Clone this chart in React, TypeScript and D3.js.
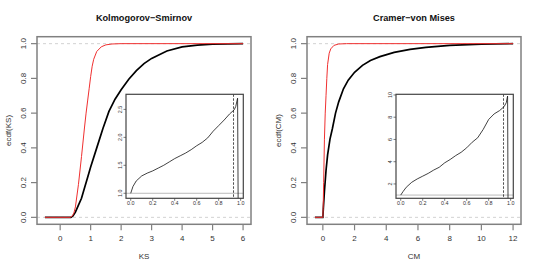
import React from "react";
import * as d3 from "d3";

// main panels: [x, F(x)]
const ksRedX = [-0.5, 0.33, 0.4, 0.45, 0.5, 0.6, 0.7, 0.8, 0.85, 0.9, 0.95, 1.0, 1.05, 1.1, 1.2, 1.35, 1.5, 1.7, 2.0, 6.0];
const ksRedY = [0, 0, 0.008, 0.025, 0.06, 0.19, 0.35, 0.52, 0.6, 0.67, 0.74, 0.81, 0.87, 0.91, 0.955, 0.982, 0.993, 0.998, 1, 1];
const ksBlackX = [-0.5, 0.35, 0.42, 0.5, 0.6, 0.7, 0.8, 0.9, 1.0, 1.2, 1.4, 1.6, 1.8, 2.0, 2.25, 2.5, 2.75, 3.0, 3.5, 4.0, 4.5, 5.0, 6.0];
const ksBlackY = [0, 0, 0.008, 0.03, 0.07, 0.11, 0.17, 0.23, 0.29, 0.4, 0.51, 0.61, 0.68, 0.735, 0.795, 0.845, 0.885, 0.915, 0.958, 0.981, 0.992, 0.997, 1];

const cmRedX = [-0.5, 0, 0.02, 0.05, 0.1, 0.15, 0.2, 0.25, 0.3, 0.4, 0.5, 0.7, 1.0, 1.5, 12];
const cmRedY = [0, 0, 0.05, 0.2, 0.45, 0.6, 0.7, 0.8, 0.88, 0.945, 0.97, 0.99, 0.998, 1, 1];
const cmBlackX = [-0.5, 0, 0.03, 0.1, 0.2, 0.3, 0.45, 0.6, 0.8, 1.0, 1.3, 1.6, 2.0, 2.5, 3.0, 3.6, 4.5, 5.5, 6.5, 8, 10, 12];
const cmBlackY = [0, 0, 0.05, 0.15, 0.27, 0.36, 0.45, 0.51, 0.6, 0.665, 0.74, 0.79, 0.835, 0.875, 0.903, 0.925, 0.95, 0.967, 0.978, 0.99, 0.997, 1];

// insets
const ksInsetX = [0, 0.02, 0.05, 0.1, 0.15, 0.2, 0.25, 0.3, 0.35, 0.4, 0.45, 0.5, 0.55, 0.6, 0.65, 0.7, 0.75, 0.8, 0.85, 0.9, 0.94, 0.955, 0.972, 0.978];
const ksInsetY = [1.0, 1.12, 1.22, 1.31, 1.36, 1.4, 1.45, 1.5, 1.56, 1.62, 1.67, 1.72, 1.78, 1.85, 1.91, 1.99, 2.11, 2.21, 2.31, 2.42, 2.49, 2.55, 2.7, 0.5];
const cmInsetX = [0, 0.02, 0.05, 0.1, 0.15, 0.2, 0.25, 0.3, 0.35, 0.4, 0.45, 0.5, 0.55, 0.6, 0.65, 0.7, 0.75, 0.8, 0.85, 0.9, 0.94, 0.96, 0.972, 0.976];
const cmInsetY = [1.0, 1.3, 1.7, 2.15, 2.45, 2.7, 2.95, 3.25, 3.5, 3.9, 4.2, 4.55, 4.85, 5.25, 5.75, 6.15, 6.9, 7.8, 8.3, 8.6, 8.95, 9.3, 9.9, 0.5];

const ksTicks = [0, 1, 2, 3, 4, 5, 6];
const cmTicks = [0, 2, 4, 6, 8, 10, 12];
const fTicks = [0, 0.2, 0.4, 0.6, 0.8, 1.0];
const insetXTicks = [0, 0.2, 0.4, 0.6, 0.8, 1.0];
const ksInsetYTicks = [1.0, 1.5, 2.0, 2.5];
const cmInsetYTicks = [2, 4, 6, 8, 10];
const dashedAt = 0.935;

const font = "'Liberation Sans', Arial, Helvetica, sans-serif";
const zip = (xs: number[], ys: number[]) => xs.map((x, i) => [x, ys[i]] as [number, number]);

function Inset({ id, left, xs, ys, yDomain, yTicks, yFmt }: any) {
  const L = left, R = left + 117.3, T = 94.3, B = 198.3;
  const x = d3.scaleLinear().domain([-0.043, 1.024]).range([L, R]);
  const y = d3.scaleLinear().domain(yDomain).range([B, T]);
  const line = d3.line<[number, number]>().x(d => x(d[0])).y(d => y(d[1]));
  return (
    <g>
      <clipPath id={id}><rect x={L} y={T} width={R - L} height={B - T} /></clipPath>
      <rect x={L} y={T} width={R - L} height={B - T} fill="white" />
      <line x1={L} x2={R} y1={y(1)} y2={y(1)} stroke="#bbb" strokeWidth={1} />
      <line x1={x(dashedAt)} x2={x(dashedAt)} y1={T} y2={B} stroke="#222" strokeWidth={0.8} strokeDasharray="2.5,1.5" />
      <path d={line(zip(xs, ys)) || ""} fill="none" stroke="#111" strokeWidth={0.8} clipPath={`url(#${id})`} />
      <rect x={L} y={T} width={R - L} height={B - T} fill="none" stroke="#444" strokeWidth={1.2} />
      {insetXTicks.map(t => (
        <g key={t}>
          <line x1={x(t)} x2={x(t)} y1={B} y2={B + 2.5} stroke="#444" strokeWidth={0.7} />
          <text x={x(t)} y={B + 6.8} fontSize={5.4} textAnchor="middle" fill="#333" fontFamily={font}>{t.toFixed(1)}</text>
        </g>
      ))}
      {yTicks.map((t: number) => (
        <g key={t}>
          <line x1={L} x2={L - 2.5} y1={y(t)} y2={y(t)} stroke="#444" strokeWidth={0.7} />
          <text transform={`translate(${L - 4.5},${y(t)}) rotate(-90)`} fontSize={5.4} textAnchor="middle" fill="#333" fontFamily={font}>{yFmt(t)}</text>
        </g>
      ))}
    </g>
  );
}

function Panel({ left, title, xlab, ylab, xDomain, xTicks, red, black, inset }: any) {
  const L = left, R = left + 214, T = 36.7, B = 224.3;
  const x = d3.scaleLinear().domain(xDomain).range([L, R]);
  const y = d3.scaleLinear().domain([-0.04, 1.04]).range([B, T]);
  const line = d3.line<[number, number]>().x(d => x(d[0])).y(d => y(d[1]));
  const cx = (L + R) / 2;
  return (
    <g>
      <text x={cx} y={21} fontSize={9.2} fontWeight="bold" textAnchor="middle" fontFamily={font} fill="#111">{title}</text>
      {[0, 1].map(h => (
        <line key={h} x1={L} x2={R} y1={y(h)} y2={y(h)} stroke="#c8c8c8" strokeWidth={0.8} strokeDasharray="3,3" />
      ))}
      <path d={line(black) || ""} fill="none" stroke="#000" strokeWidth={1.7} />
      <path d={line(red) || ""} fill="none" stroke="#f03030" strokeWidth={1} />
      {inset}
      <rect x={L} y={T} width={R - L} height={B - T} fill="none" stroke="#808080" strokeWidth={1.5} />
      {xTicks.map((t: number) => (
        <g key={t}>
          <line x1={x(t)} x2={x(t)} y1={B} y2={B + 6} stroke="#808080" strokeWidth={1.2} />
          <text x={x(t)} y={241} fontSize={8} textAnchor="middle" fill="#333" fontFamily={font}>{t}</text>
        </g>
      ))}
      {fTicks.map(t => (
        <g key={t}>
          <line x1={L} x2={L - 6} y1={y(t)} y2={y(t)} stroke="#808080" strokeWidth={1.2} />
          <text transform={`translate(${L - 11},${y(t)}) rotate(-90)`} fontSize={8} textAnchor="middle" fill="#333" fontFamily={font}>{t.toFixed(1)}</text>
        </g>
      ))}
      <text x={cx} y={259} fontSize={8} textAnchor="middle" fill="#333" fontFamily={font}>{xlab}</text>
      <text transform={`translate(${L - 26.5},${(T + B) / 2}) rotate(-90)`} fontSize={8} textAnchor="middle" fill="#333" fontFamily={font}>{ylab}</text>
    </g>
  );
}

export default function App() {
  return (
    <svg width={540} height={270} style={{ position: "fixed", left: 0, top: 0, background: "white" }}>
      <rect width={540} height={270} fill="white" />
      <Panel left={37} title="Kolmogorov−Smirnov" xlab="KS" ylab="ecdf(KS)" xDomain={[-0.76, 6.26]} xTicks={ksTicks}
        red={zip(ksRedX, ksRedY)} black={zip(ksBlackX, ksBlackY)}
        inset={<Inset id="clipKS" left={126} xs={ksInsetX} ys={ksInsetY} yDomain={[0.91, 2.77]} yTicks={ksInsetYTicks} yFmt={(t: number) => t.toFixed(1)} />} />
      <Panel left={307} title="Cramer−von Mises" xlab="CM" ylab="ecdf(CM)" xDomain={[-1.0, 12.5]} xTicks={cmTicks}
        red={zip(cmRedX, cmRedY)} black={zip(cmBlackX, cmBlackY)}
        inset={<Inset id="clipCM" left={396} xs={cmInsetX} ys={cmInsetY} yDomain={[0.71, 10.06]} yTicks={cmInsetYTicks} yFmt={(t: number) => String(t)} />} />
    </svg>
  );
}
